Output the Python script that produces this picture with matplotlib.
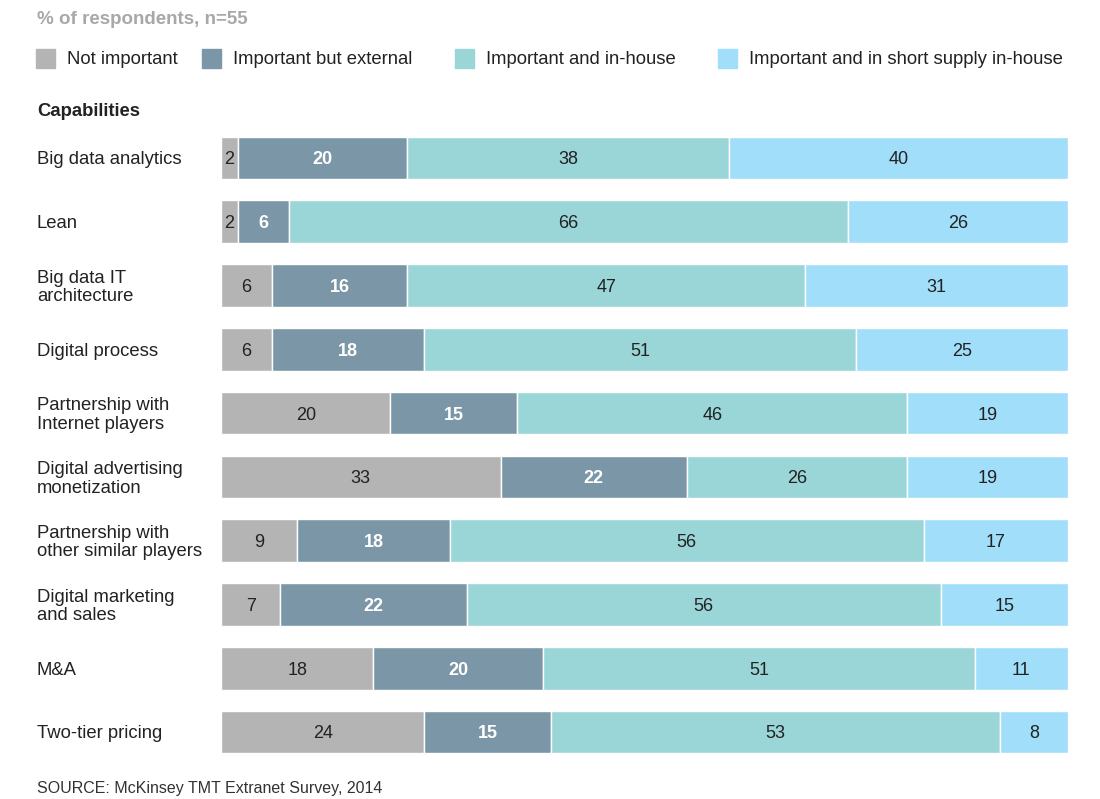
"""Stacked horizontal bars: importance of digital capabilities."""

import matplotlib.pyplot as plt
import numpy as np

plt.rcParams["font.family"] = ["Liberation Sans", "DejaVu Sans"]

capabilities = [
    "Big data analytics",
    "Lean",
    "Big data IT\narchitecture",
    "Digital process",
    "Partnership with\nInternet players",
    "Digital advertising\nmonetization",
    "Partnership with\nother similar players",
    "Digital marketing\nand sales",
    "M&A",
    "Two-tier pricing",
]
not_important = [2, 2, 6, 6, 20, 33, 9, 7, 18, 24]
important_external = [20, 6, 16, 18, 15, 22, 18, 22, 20, 15]
important_inhouse = [38, 66, 47, 51, 46, 26, 56, 56, 51, 53]
short_supply = [40, 26, 31, 25, 19, 19, 17, 15, 11, 8]

series_names = [
    "Not important",
    "Important but external",
    "Important and in-house",
    "Important and in short supply in-house",
]
colors = ["#b4b4b4", "#7b97a7", "#9ad5d8", "#a0defa"]
text_colors = ["#222222", "white", "#222222", "#222222"]
text_weights = ["normal", "bold", "normal", "normal"]

W, H = 1100, 799
fig = plt.figure(figsize=(W / 100, H / 100), dpi=100)


def fx(px):
    return px / W


def fy(py):
    return 1 - py / H


# bar area: x 0..100 spans 221..1068 px, rows centred 158..732 px
row_step = (732 - 158) / 9
ax = fig.add_axes([fx(221), fy(732 + row_step / 2), fx(1068 - 221),
                   (9 * row_step + row_step) / H])
ax.set_xlim(0, 100)
ax.set_ylim(9.5, -0.5)
ax.axis("off")

nudge = 2 / row_step  # text sits a touch below the bar centre
y = np.arange(len(capabilities))
left = np.zeros(len(capabilities))
for vals, color, tc, tw in zip(
    [not_important, important_external, important_inhouse, short_supply],
    colors, text_colors, text_weights,
):
    vals = np.array(vals, dtype=float)
    ax.barh(y, vals, left=left, height=0.67, color=color,
            edgecolor="white", linewidth=1.0)
    for yi, l, v in zip(y, left, vals):
        ax.text(l + v / 2, yi + nudge, f"{int(v)}", ha="center", va="center",
                fontsize=13, color=tc, fontweight=tw)
    left += vals

# category labels
for yi, name in zip(y, capabilities):
    fig.text(fx(37), fy(160 + yi * row_step), name, ha="left", va="center",
             fontsize=13.3, color="#222222", linespacing=1.12)

# header
fig.text(fx(37), fy(20), "% of respondents, n=55", ha="left", va="center",
         fontsize=13.5, fontweight="bold", color="#a8a8a8")
fig.text(fx(37), fy(111), "Capabilities", ha="left", va="center",
         fontsize=13.3, fontweight="bold", color="#222222")

# legend
legend_sq = [36, 202, 455, 718]
legend_tx = [67, 233, 486, 749]
for sx, tx, name, color in zip(legend_sq, legend_tx, series_names, colors):
    fig.patches.append(plt.Rectangle((fx(sx), fy(68)), 19 / W, 19 / H,
                                     transform=fig.transFigure,
                                     color=color, zorder=2))
    fig.text(fx(tx), fy(60), name, ha="left", va="center",
             fontsize=13.3, color="#222222")

fig.text(fx(37), fy(789), "SOURCE: McKinsey TMT Extranet Survey, 2014",
         ha="left", va="center", fontsize=11.5, color="#333333")

fig.savefig("out.png", dpi=100)
